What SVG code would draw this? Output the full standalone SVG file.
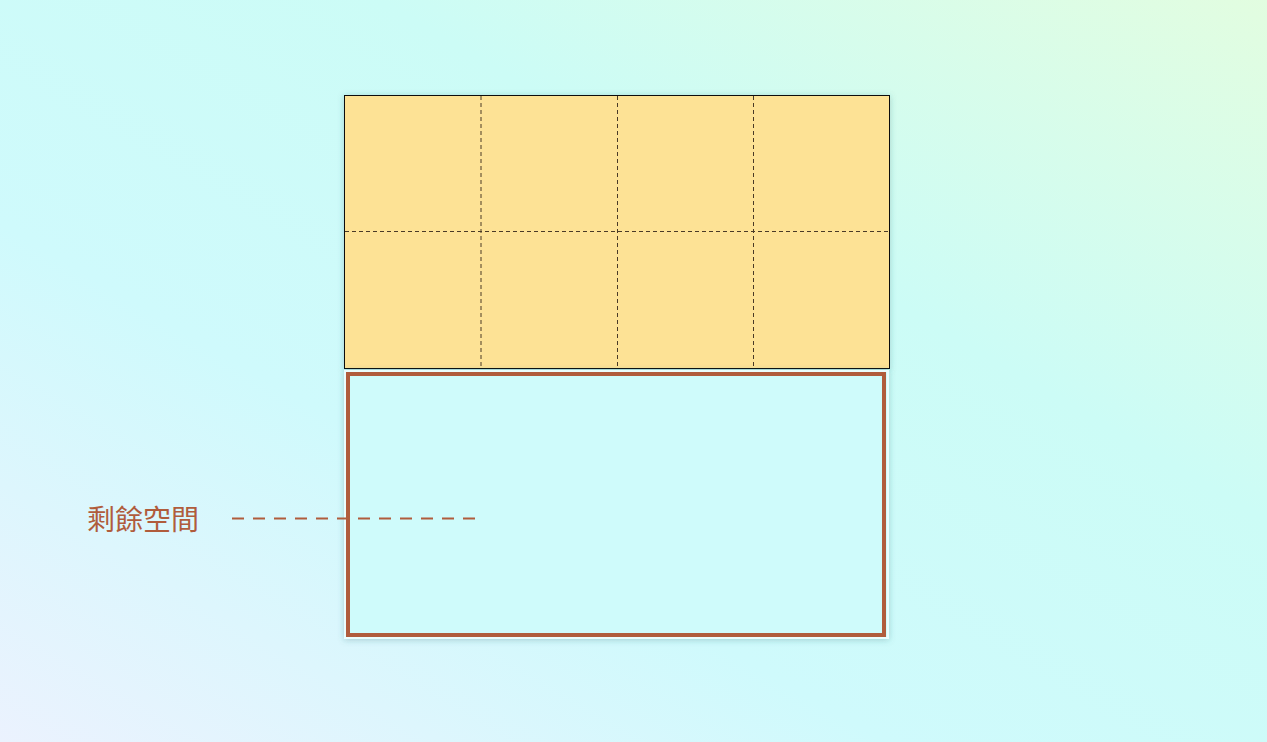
<svg xmlns="http://www.w3.org/2000/svg" width="1267" height="742" viewBox="0 0 1267 742">
  <defs>
    <linearGradient id="bg" x1="0" y1="1" x2="1" y2="0">
      <stop offset="0" stop-color="#ebf2fe"/>
      <stop offset="0.35" stop-color="#cffafc"/>
      <stop offset="0.65" stop-color="#ccfcf6"/>
      <stop offset="1" stop-color="#e2fde0"/>
    </linearGradient>
    <filter id="shadow" x="-10%" y="-10%" width="120%" height="120%">
      <feDropShadow dx="0" dy="1" stdDeviation="3" flood-color="#2a6f73" flood-opacity="0.3"/>
    </filter>
  </defs>
  <style>
    .grid { stroke: #4a3a26; stroke-width: 1; stroke-dasharray: 4 3; fill: none; }
    .label { font-family: "Noto Sans CJK TC", "Noto Sans CJK SC", sans-serif; font-size: 28px; fill: #b05c3c; }
    .leader { stroke: #b05c3c; stroke-width: 2; stroke-dasharray: 12 9; fill: none; }
  </style>
  <rect x="0" y="0" width="1267" height="742" fill="url(#bg)"/>

  <g id="boxes-area">
    <rect x="344.5" y="95.5" width="545" height="273" fill="#fde295" stroke="#111" stroke-width="1" filter="url(#shadow)"/>
    <g class="grid">
      <line x1="481" y1="96" x2="481" y2="368"/>
      <line x1="617.5" y1="96" x2="617.5" y2="368"/>
      <line x1="753.5" y1="96" x2="753.5" y2="368"/>
      <line x1="345" y1="231.5" x2="889" y2="231.5"/>
    </g>
  </g>

  <g id="remaining-space">
    <rect x="344" y="370" width="545" height="269" fill="#eafdfd" filter="url(#shadow)"/>
    <rect x="346" y="372" width="541" height="265" fill="#cffbfb"/>
    <rect x="348" y="374" width="536" height="261" fill="none" stroke="#b05c3c" stroke-width="4"/>
  </g>

  <g id="connectors">
    <line class="leader" x1="232" y1="518.5" x2="480" y2="518.5"/>
  </g>

  <g id="label">
    <text class="label" x="87" y="530">剩餘空間</text>
  </g>
</svg>
